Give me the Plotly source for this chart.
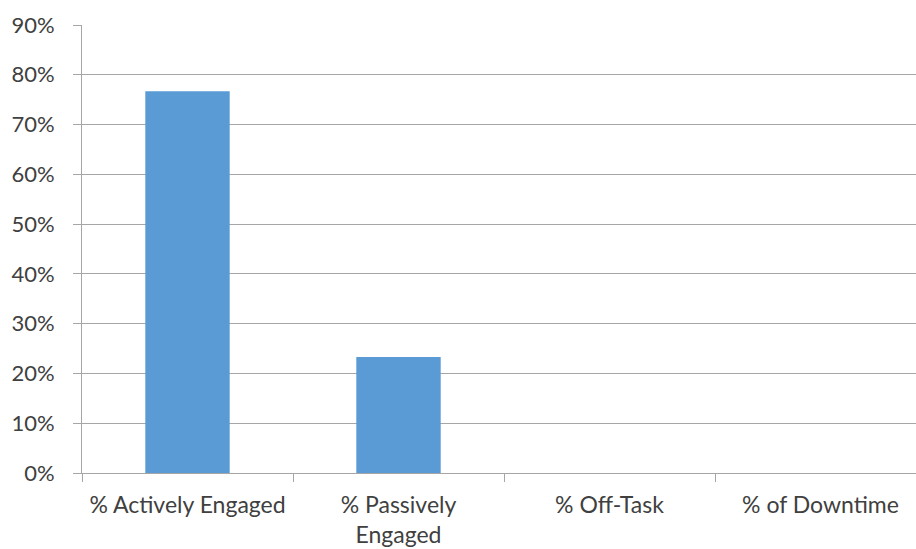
import plotly.graph_objects as go

categories = ["% Actively Engaged", "% Passively<br>Engaged", "% Off-Task", "% of Downtime"]
values = [0.767, 0.233, 0.0, 0.0]
y_ticks = [0, 0.1, 0.2, 0.3, 0.4, 0.5, 0.6, 0.7, 0.8, 0.9]

fig = go.Figure(go.Bar(x=categories, y=values, marker=dict(color="#5b9bd5", line=dict(width=0)), width=0.40))

font = dict(family="Lato", size=22, color="#404040")
xfont = dict(family="Lato", size=23, color="#404040")
fig.update_layout(
    width=916, height=549,
    margin=dict(l=82, r=0, t=25, b=76),
    paper_bgcolor="white", plot_bgcolor="white",
    showlegend=False,
    font=font,
)
fig.update_xaxes(
    range=[-0.5, 3.4526],
    automargin=False,
    showgrid=False,
    showline=True, linecolor="#a6a6a6", linewidth=1,
    ticks="outside", tickson="boundaries", ticklen=8, tickcolor="#a6a6a6",
    ticklabelstandoff=11,
    tickfont=xfont,
)
fig.update_yaxes(
    range=[0, 0.9],
    automargin=False,
    tickvals=y_ticks, tickformat=".0%",
    showgrid=True, gridcolor="#a6a6a6", gridwidth=1,
    showline=True, linecolor="#a6a6a6", linewidth=1,
    ticks="outside", ticklen=8, tickcolor="#a6a6a6",
    ticklabelstandoff=14,
    zeroline=False,
    tickfont=font,
)
fig.write_html("out.html")
